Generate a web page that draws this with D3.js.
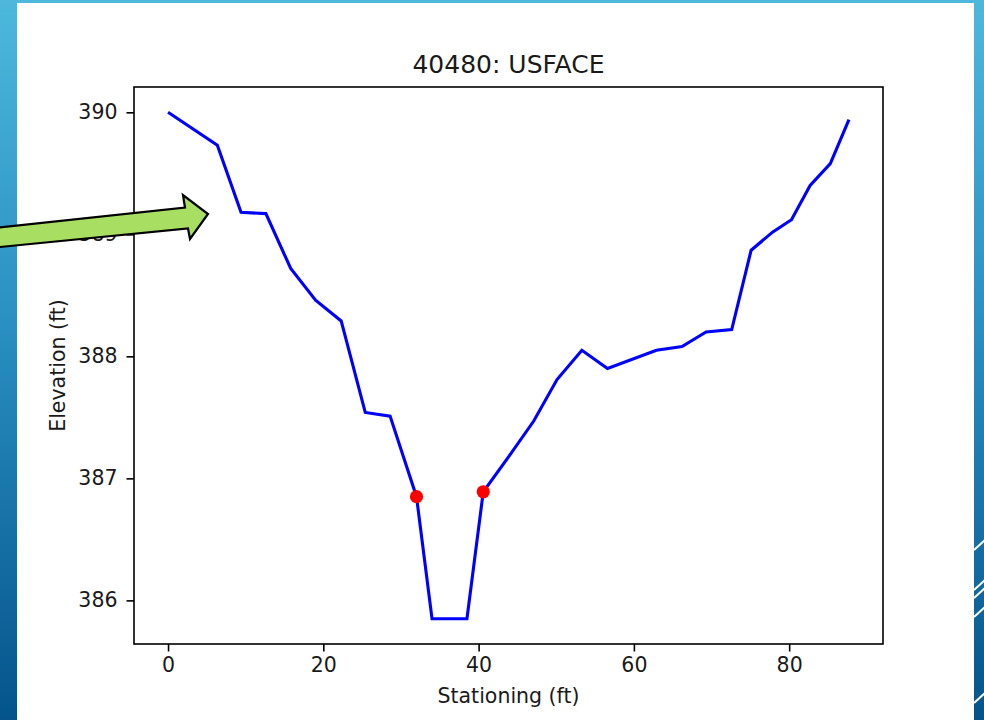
<!DOCTYPE html>
<html>
<head>
<meta charset="utf-8">
<script src="https://cdn.jsdelivr.net/npm/d3@7"></script>
<style>
  body { margin: 0; overflow: hidden; }
  svg { display: block; font-family: "DejaVu Sans", sans-serif; }
</style>
</head>
<body>
<div id="chart"></div>
<script>
// Cross-section data
var stationing = [0, 6.35, 9.4, 12.6, 15.8, 19.0, 22.3, 25.4, 28.6, 32.0, 34.0, 38.5, 40.6,
                  43.9, 47.1, 50.1, 53.3, 56.6, 62.9, 66.2, 69.3, 72.6, 75.1, 77.9, 80.3,
                  82.7, 85.3, 87.7];
var elevation = [390.0, 389.73, 389.18, 389.17, 388.72, 388.46, 388.29, 387.54, 387.51, 386.85,
                 385.85, 385.85, 386.89, 387.18, 387.47, 387.81, 388.05, 387.90, 388.05, 388.08,
                 388.20, 388.22, 388.87, 389.02, 389.12, 389.40, 389.58, 389.94];

// bank stations (red markers)
var bankStation = [32.0, 40.6];
var bankElevation = [386.85, 386.89];

var xTicks = [0, 20, 40, 60, 80];
var yTicks = [386, 387, 388, 389, 390];

var chartTitle = "40480: USFACE";
var xLabel = "Stationing (ft)";
var yLabel = "Elevation (ft)";

var W = 984, H = 720;
var plot = { left: 134, right: 883, top: 87, bottom: 644 };

var svg = d3.select("#chart")
  .append("svg")
    .attr("width", W)
    .attr("height", H);

// slide background gradient
var grad = svg.append("defs")
  .append("linearGradient")
    .attr("id", "bg")
    .attr("x1", "0%").attr("y1", "0%")
    .attr("x2", "0%").attr("y2", "100%");
grad.append("stop").attr("offset", "0%").attr("stop-color", "#4db8dc");
grad.append("stop").attr("offset", "45%").attr("stop-color", "#2a8fc2");
grad.append("stop").attr("offset", "100%").attr("stop-color", "#04548b");

svg.append("rect")
    .attr("width", W).attr("height", H)
    .attr("fill", "url(#bg)");

// decorative white stripes on the right edge
var stripeY = [550, 590, 598, 617, 703];
svg.selectAll(".stripe")
  .data(stripeY)
  .enter().append("line")
    .attr("x1", 974).attr("y1", function(d) { return d; })
    .attr("x2", 986).attr("y2", function(d) { return d - 11; })
    .attr("stroke", "white")
    .attr("stroke-width", 2);

// white slide panel
svg.append("rect")
    .attr("x", 17).attr("y", 3)
    .attr("width", 974 - 17).attr("height", H)
    .attr("fill", "white");

// scales with matplotlib-like 5% margins
var xExt = d3.extent(stationing), yExt = d3.extent(elevation);
var xPad = (xExt[1] - xExt[0]) * 0.05, yPad = (yExt[1] - yExt[0]) * 0.05;

var x = d3.scaleLinear()
    .domain([xExt[0] - xPad, xExt[1] + xPad])
    .range([plot.left, plot.right]);

var y = d3.scaleLinear()
    .domain([yExt[0] - yPad, yExt[1] + yPad])
    .range([plot.bottom, plot.top]);

// axes
var xAxis = svg.append("g")
    .attr("transform", "translate(0," + plot.bottom + ")")
    .call(d3.axisBottom(x).tickValues(xTicks).tickFormat(d3.format("d"))
      .tickSize(7.5).tickPadding(6).tickSizeOuter(0));

var yAxis = svg.append("g")
    .attr("transform", "translate(" + plot.left + ",0)")
    .call(d3.axisLeft(y).tickValues(yTicks).tickFormat(d3.format("d"))
      .tickSize(7.5).tickPadding(9).tickSizeOuter(0));

[xAxis, yAxis].forEach(function(g) {
  g.select(".domain").remove();
  g.selectAll(".tick line").attr("stroke", "#000").attr("stroke-width", 1.6);
  g.selectAll(".tick text")
    .attr("fill", "#1a1a1a")
    .style("font-size", "20.5px")
    .style("font-family", "DejaVu Sans");
});

// frame
svg.append("rect")
    .attr("x", plot.left).attr("y", plot.top)
    .attr("width", plot.right - plot.left)
    .attr("height", plot.bottom - plot.top)
    .attr("fill", "none")
    .attr("stroke", "#000")
    .attr("stroke-width", 1.6);

// profile line
var line = d3.line()
    .x(function(d, i) { return x(stationing[i]); })
    .y(function(d) { return y(d); });

svg.append("path")
    .datum(elevation)
    .attr("d", line)
    .attr("fill", "none")
    .attr("stroke", "#0000ff")
    .attr("stroke-width", 3.1)
    .attr("stroke-linejoin", "miter");

// bank markers
svg.selectAll(".bank")
  .data(bankElevation)
  .enter().append("circle")
    .attr("cx", function(d, i) { return x(bankStation[i]); })
    .attr("cy", function(d) { return y(d); })
    .attr("r", 6.6)
    .attr("fill", "#ff0000");

// title and labels
svg.append("text")
    .attr("x", (plot.left + plot.right) / 2)
    .attr("y", 73)
    .attr("text-anchor", "middle")
    .style("font-size", "25px")
    .attr("fill", "#1a1a1a")
    .text(chartTitle);

svg.append("text")
    .attr("x", (plot.left + plot.right) / 2)
    .attr("y", 703)
    .attr("text-anchor", "middle")
    .style("font-size", "20.5px")
    .attr("fill", "#1a1a1a")
    .text(xLabel);

svg.append("text")
    .attr("transform", "translate(65," + (plot.top + plot.bottom) / 2 + ") rotate(-90)")
    .attr("text-anchor", "middle")
    .style("font-size", "20.5px")
    .attr("fill", "#1a1a1a")
    .text(yLabel);

// green callout arrow pointing at the left bank
var arrowPts = [[-10, 228.5], [185, 207.5], [183, 195], [208, 214], [190, 239], [188, 228.5], [-10, 248]];
svg.append("path")
    .attr("d", d3.line()(arrowPts) + "Z")
    .attr("fill", "#a8df62")
    .attr("stroke", "#000")
    .attr("stroke-width", 2.2)
    .attr("stroke-linejoin", "miter");
</script>
</body>
</html>
